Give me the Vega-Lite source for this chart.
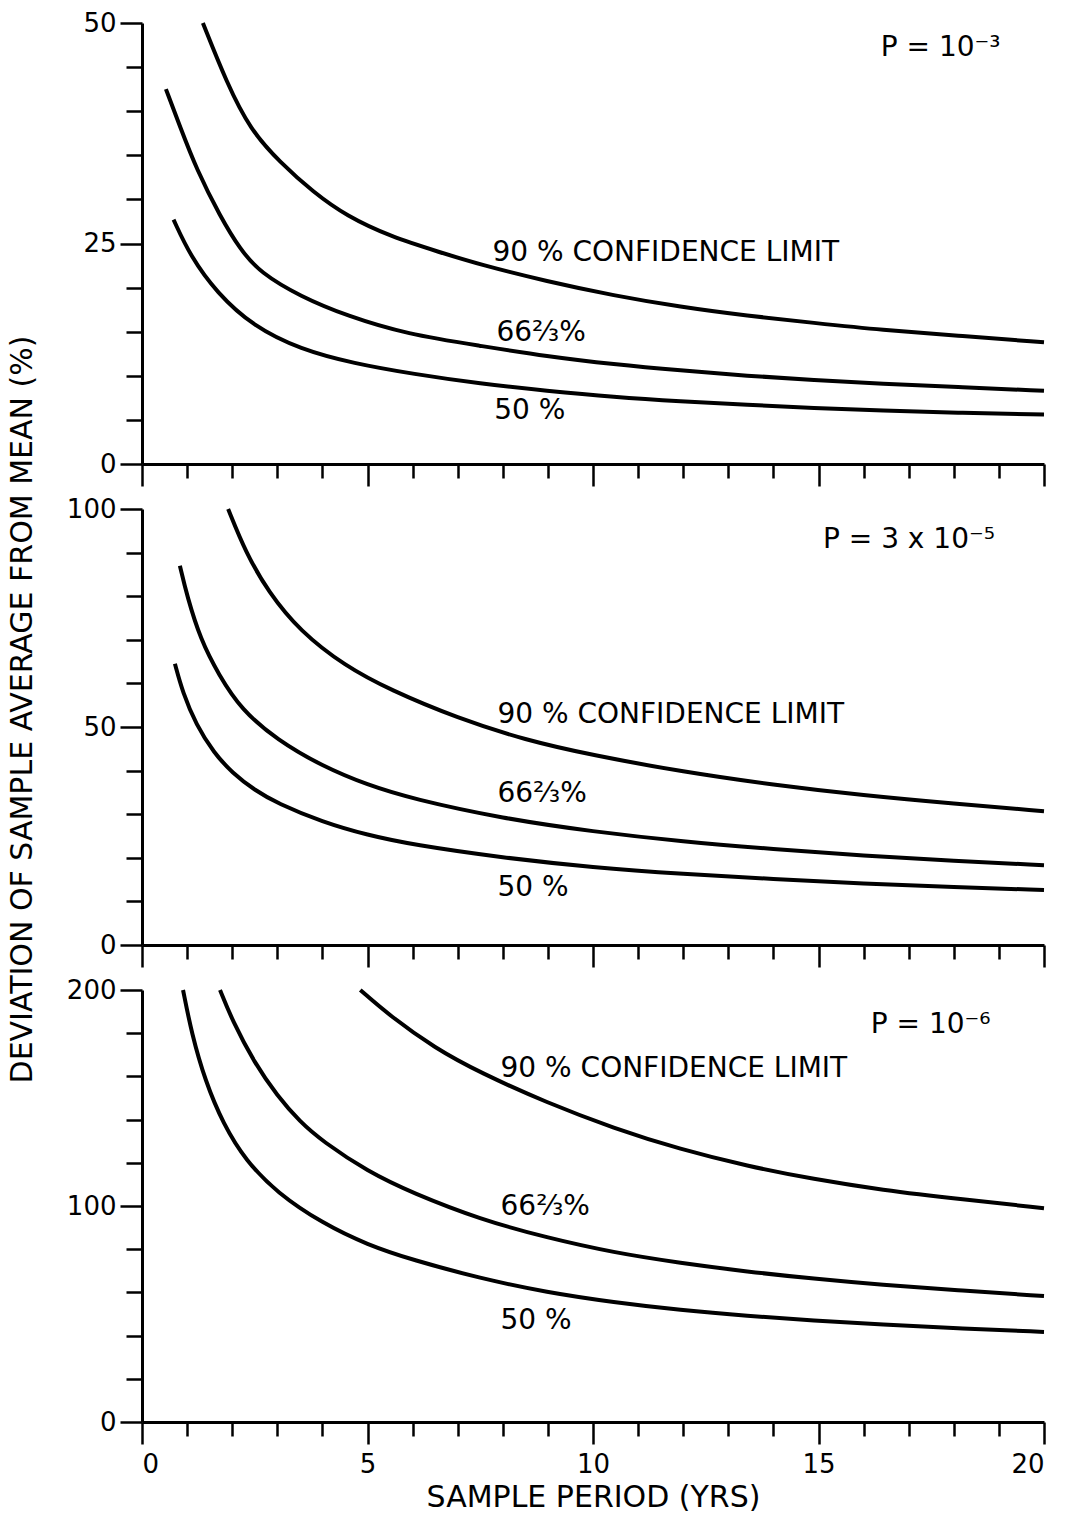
{
  "$schema": "https://vega.github.io/schema/vega-lite/v6.json",
  "background": "white",
  "padding": {"left": 6, "top": 10, "right": 5, "bottom": 0},
  "config": {
    "font": "DejaVu Sans",
    "view": {"stroke": null},
    "axis": {
      "grid": false,
      "domainColor": "black",
      "domainWidth": 3,
      "tickColor": "black",
      "tickWidth": 2.5,
      "labelFont": "DejaVu Sans",
      "labelFontSize": 26,
      "labelColor": "black",
      "labelPadding": 4,
      "titleFont": "DejaVu Sans",
      "titleFontSize": 30,
      "titleFontWeight": "normal",
      "titleColor": "black"
    },
    "text": {"font": "DejaVu Sans", "color": "black"}
  },
  "datasets": {
    "curves": [
      {"panel": 1, "limit": "90%", "years": 1.35, "deviation": 50},
      {"panel": 1, "limit": "90%", "years": 1.88, "deviation": 43.2},
      {"panel": 1, "limit": "90%", "years": 2.4, "deviation": 37.9},
      {"panel": 1, "limit": "90%", "years": 3.06, "deviation": 34.2},
      {"panel": 1, "limit": "90%", "years": 3.8, "deviation": 30.8},
      {"panel": 1, "limit": "90%", "years": 4.54, "deviation": 28.1},
      {"panel": 1, "limit": "90%", "years": 5.5, "deviation": 25.8},
      {"panel": 1, "limit": "90%", "years": 6.61, "deviation": 24.0},
      {"panel": 1, "limit": "90%", "years": 7.5, "deviation": 22.6},
      {"panel": 1, "limit": "90%", "years": 8.98, "deviation": 20.7},
      {"panel": 1, "limit": "90%", "years": 10.46, "deviation": 19.1},
      {"panel": 1, "limit": "90%", "years": 11.94, "deviation": 17.8},
      {"panel": 1, "limit": "90%", "years": 13.42, "deviation": 16.8},
      {"panel": 1, "limit": "90%", "years": 14.9, "deviation": 16.0},
      {"panel": 1, "limit": "90%", "years": 16.38, "deviation": 15.2},
      {"panel": 1, "limit": "90%", "years": 18.2, "deviation": 14.5},
      {"panel": 1, "limit": "90%", "years": 20, "deviation": 13.8},

      {"panel": 1, "limit": "66⅔%", "years": 0.53, "deviation": 42.5},
      {"panel": 1, "limit": "66⅔%", "years": 0.84, "deviation": 38.3},
      {"panel": 1, "limit": "66⅔%", "years": 1.21, "deviation": 33.4},
      {"panel": 1, "limit": "66⅔%", "years": 1.73, "deviation": 28.1},
      {"panel": 1, "limit": "66⅔%", "years": 2.18, "deviation": 24.3},
      {"panel": 1, "limit": "66⅔%", "years": 2.62, "deviation": 21.7},
      {"panel": 1, "limit": "66⅔%", "years": 3.51, "deviation": 19.0},
      {"panel": 1, "limit": "66⅔%", "years": 4.54, "deviation": 16.8},
      {"panel": 1, "limit": "66⅔%", "years": 5.88, "deviation": 14.7},
      {"panel": 1, "limit": "66⅔%", "years": 7.5, "deviation": 13.4},
      {"panel": 1, "limit": "66⅔%", "years": 8.98, "deviation": 12.2},
      {"panel": 1, "limit": "66⅔%", "years": 10.46, "deviation": 11.3},
      {"panel": 1, "limit": "66⅔%", "years": 11.94, "deviation": 10.6},
      {"panel": 1, "limit": "66⅔%", "years": 13.42, "deviation": 10.0},
      {"panel": 1, "limit": "66⅔%", "years": 14.9, "deviation": 9.5},
      {"panel": 1, "limit": "66⅔%", "years": 16.38, "deviation": 9.1},
      {"panel": 1, "limit": "66⅔%", "years": 18.2, "deviation": 8.7},
      {"panel": 1, "limit": "66⅔%", "years": 20, "deviation": 8.3},

      {"panel": 1, "limit": "50%", "years": 0.7, "deviation": 27.7},
      {"panel": 1, "limit": "50%", "years": 1.07, "deviation": 23.6},
      {"panel": 1, "limit": "50%", "years": 1.66, "deviation": 19.4},
      {"panel": 1, "limit": "50%", "years": 2.47, "deviation": 15.6},
      {"panel": 1, "limit": "50%", "years": 3.51, "deviation": 13.0},
      {"panel": 1, "limit": "50%", "years": 4.69, "deviation": 11.4},
      {"panel": 1, "limit": "50%", "years": 6.02, "deviation": 10.2},
      {"panel": 1, "limit": "50%", "years": 7.5, "deviation": 9.1},
      {"panel": 1, "limit": "50%", "years": 8.98, "deviation": 8.3},
      {"panel": 1, "limit": "50%", "years": 10.46, "deviation": 7.6},
      {"panel": 1, "limit": "50%", "years": 11.94, "deviation": 7.1},
      {"panel": 1, "limit": "50%", "years": 13.42, "deviation": 6.7},
      {"panel": 1, "limit": "50%", "years": 14.9, "deviation": 6.35},
      {"panel": 1, "limit": "50%", "years": 16.38, "deviation": 6.05},
      {"panel": 1, "limit": "50%", "years": 18.2, "deviation": 5.8},
      {"panel": 1, "limit": "50%", "years": 20, "deviation": 5.6},

      {"panel": 2, "limit": "90%", "years": 1.91, "deviation": 100},
      {"panel": 2, "limit": "90%", "years": 2.3, "deviation": 90},
      {"panel": 2, "limit": "90%", "years": 2.8, "deviation": 81},
      {"panel": 2, "limit": "90%", "years": 3.5, "deviation": 72},
      {"panel": 2, "limit": "90%", "years": 4.5, "deviation": 64},
      {"panel": 2, "limit": "90%", "years": 5.5, "deviation": 58.5},
      {"panel": 2, "limit": "90%", "years": 7, "deviation": 52},
      {"panel": 2, "limit": "90%", "years": 8.5, "deviation": 47},
      {"panel": 2, "limit": "90%", "years": 10, "deviation": 43.5},
      {"panel": 2, "limit": "90%", "years": 12, "deviation": 39.7},
      {"panel": 2, "limit": "90%", "years": 14, "deviation": 36.7},
      {"panel": 2, "limit": "90%", "years": 16, "deviation": 34.3},
      {"panel": 2, "limit": "90%", "years": 18, "deviation": 32.4},
      {"panel": 2, "limit": "90%", "years": 20, "deviation": 30.7},

      {"panel": 2, "limit": "66⅔%", "years": 0.84, "deviation": 87},
      {"panel": 2, "limit": "66⅔%", "years": 1.0, "deviation": 80},
      {"panel": 2, "limit": "66⅔%", "years": 1.3, "deviation": 70},
      {"panel": 2, "limit": "66⅔%", "years": 1.7, "deviation": 62},
      {"panel": 2, "limit": "66⅔%", "years": 2.2, "deviation": 54},
      {"panel": 2, "limit": "66⅔%", "years": 3, "deviation": 47},
      {"panel": 2, "limit": "66⅔%", "years": 4, "deviation": 41},
      {"panel": 2, "limit": "66⅔%", "years": 5, "deviation": 36.7},
      {"panel": 2, "limit": "66⅔%", "years": 6, "deviation": 33.5},
      {"panel": 2, "limit": "66⅔%", "years": 8, "deviation": 29},
      {"panel": 2, "limit": "66⅔%", "years": 10, "deviation": 26},
      {"panel": 2, "limit": "66⅔%", "years": 12, "deviation": 23.7},
      {"panel": 2, "limit": "66⅔%", "years": 14, "deviation": 22},
      {"panel": 2, "limit": "66⅔%", "years": 16, "deviation": 20.5},
      {"panel": 2, "limit": "66⅔%", "years": 18, "deviation": 19.3},
      {"panel": 2, "limit": "66⅔%", "years": 20, "deviation": 18.3},

      {"panel": 2, "limit": "50%", "years": 0.73, "deviation": 64.5},
      {"panel": 2, "limit": "50%", "years": 0.9, "deviation": 58},
      {"panel": 2, "limit": "50%", "years": 1.2, "deviation": 50.5},
      {"panel": 2, "limit": "50%", "years": 1.6, "deviation": 44},
      {"panel": 2, "limit": "50%", "years": 2, "deviation": 39.5},
      {"panel": 2, "limit": "50%", "years": 2.5, "deviation": 35.5},
      {"panel": 2, "limit": "50%", "years": 3, "deviation": 32.5},
      {"panel": 2, "limit": "50%", "years": 4, "deviation": 28.2},
      {"panel": 2, "limit": "50%", "years": 5, "deviation": 25.2},
      {"panel": 2, "limit": "50%", "years": 6, "deviation": 23},
      {"panel": 2, "limit": "50%", "years": 8, "deviation": 20},
      {"panel": 2, "limit": "50%", "years": 10, "deviation": 17.8},
      {"panel": 2, "limit": "50%", "years": 12, "deviation": 16.3},
      {"panel": 2, "limit": "50%", "years": 14, "deviation": 15.1},
      {"panel": 2, "limit": "50%", "years": 16, "deviation": 14.1},
      {"panel": 2, "limit": "50%", "years": 18, "deviation": 13.3},
      {"panel": 2, "limit": "50%", "years": 20, "deviation": 12.6},

      {"panel": 3, "limit": "90%", "years": 4.84, "deviation": 200},
      {"panel": 3, "limit": "90%", "years": 5.5, "deviation": 188},
      {"panel": 3, "limit": "90%", "years": 6.5, "deviation": 173},
      {"panel": 3, "limit": "90%", "years": 7.5, "deviation": 161.7},
      {"panel": 3, "limit": "90%", "years": 8.98, "deviation": 147.8},
      {"panel": 3, "limit": "90%", "years": 10.46, "deviation": 136},
      {"panel": 3, "limit": "90%", "years": 11.94, "deviation": 126.2},
      {"panel": 3, "limit": "90%", "years": 13.42, "deviation": 118.5},
      {"panel": 3, "limit": "90%", "years": 14.9, "deviation": 112.4},
      {"panel": 3, "limit": "90%", "years": 16.38, "deviation": 107.5},
      {"panel": 3, "limit": "90%", "years": 18.2, "deviation": 103},
      {"panel": 3, "limit": "90%", "years": 20, "deviation": 99},

      {"panel": 3, "limit": "66⅔%", "years": 1.73, "deviation": 200},
      {"panel": 3, "limit": "66⅔%", "years": 2, "deviation": 186},
      {"panel": 3, "limit": "66⅔%", "years": 2.5, "deviation": 166},
      {"panel": 3, "limit": "66⅔%", "years": 3, "deviation": 151},
      {"panel": 3, "limit": "66⅔%", "years": 3.5, "deviation": 139},
      {"panel": 3, "limit": "66⅔%", "years": 4, "deviation": 130},
      {"panel": 3, "limit": "66⅔%", "years": 5, "deviation": 116},
      {"panel": 3, "limit": "66⅔%", "years": 6, "deviation": 106},
      {"panel": 3, "limit": "66⅔%", "years": 7.5, "deviation": 93.8},
      {"panel": 3, "limit": "66⅔%", "years": 8.98, "deviation": 85.3},
      {"panel": 3, "limit": "66⅔%", "years": 10.46, "deviation": 78.4},
      {"panel": 3, "limit": "66⅔%", "years": 11.94, "deviation": 73.6},
      {"panel": 3, "limit": "66⅔%", "years": 13.42, "deviation": 69.6},
      {"panel": 3, "limit": "66⅔%", "years": 14.9, "deviation": 66.3},
      {"panel": 3, "limit": "66⅔%", "years": 16.38, "deviation": 63.5},
      {"panel": 3, "limit": "66⅔%", "years": 18.2, "deviation": 60.8},
      {"panel": 3, "limit": "66⅔%", "years": 20, "deviation": 58.3},

      {"panel": 3, "limit": "50%", "years": 0.91, "deviation": 200},
      {"panel": 3, "limit": "50%", "years": 1.1, "deviation": 180},
      {"panel": 3, "limit": "50%", "years": 1.4, "deviation": 158},
      {"panel": 3, "limit": "50%", "years": 1.8, "deviation": 138},
      {"panel": 3, "limit": "50%", "years": 2.3, "deviation": 121},
      {"panel": 3, "limit": "50%", "years": 3, "deviation": 106},
      {"panel": 3, "limit": "50%", "years": 4, "deviation": 92},
      {"panel": 3, "limit": "50%", "years": 5, "deviation": 82},
      {"panel": 3, "limit": "50%", "years": 6, "deviation": 75},
      {"panel": 3, "limit": "50%", "years": 7.5, "deviation": 66.5},
      {"panel": 3, "limit": "50%", "years": 8.98, "deviation": 60},
      {"panel": 3, "limit": "50%", "years": 10.46, "deviation": 55.4},
      {"panel": 3, "limit": "50%", "years": 11.94, "deviation": 51.8},
      {"panel": 3, "limit": "50%", "years": 13.42, "deviation": 49.1},
      {"panel": 3, "limit": "50%", "years": 14.9, "deviation": 47.0},
      {"panel": 3, "limit": "50%", "years": 16.38, "deviation": 45.1},
      {"panel": 3, "limit": "50%", "years": 18.2, "deviation": 43.3},
      {"panel": 3, "limit": "50%", "years": 20, "deviation": 41.7}
    ],
    "notes": [
      {"panel": 1, "years": 16.38, "deviation": 47.2, "label": "P = 10⁻³"},
      {"panel": 1, "years": 7.77, "deviation": 23.9, "label": "90 % CONFIDENCE LIMIT"},
      {"panel": 1, "years": 7.86, "deviation": 14.9, "label": "66⅔%"},
      {"panel": 1, "years": 7.81, "deviation": 6.0, "label": "50 %"},
      {"panel": 2, "years": 15.1, "deviation": 92.9, "label": "P = 3 x 10⁻⁵"},
      {"panel": 2, "years": 7.88, "deviation": 52.8, "label": "90 % CONFIDENCE LIMIT"},
      {"panel": 2, "years": 7.88, "deviation": 34.6, "label": "66⅔%"},
      {"panel": 2, "years": 7.88, "deviation": 13.1, "label": "50 %"},
      {"panel": 3, "years": 16.16, "deviation": 183.6, "label": "P = 10⁻⁶"},
      {"panel": 3, "years": 7.95, "deviation": 163.3, "label": "90 % CONFIDENCE LIMIT"},
      {"panel": 3, "years": 7.95, "deviation": 99.6, "label": "66⅔%"},
      {"panel": 3, "years": 7.95, "deviation": 46.6, "label": "50 %"}
    ]
  },
  "bounds": "flush",
  "spacing": 45,
  "vconcat": [
    {
      "width": 902,
      "height": 441,
      "encoding": {
        "x": {
          "field": "years", "type": "quantitative",
          "scale": {"domain": [0, 20], "nice": false},
          "axis": {
            "values": [0,1,2,3,4,5,6,7,8,9,10,11,12,13,14,15,16,17,18,19,20],
            "labels": false, "title": null,
            "tickSize": {"condition": {"test": "datum.value % 5 === 0", "value": 22}, "value": 14}
          }
        },
        "y": {
          "field": "deviation", "type": "quantitative",
          "scale": {"domain": [0, 50], "nice": false},
          "axis": {
            "values": [0,5,10,15,20,25,30,35,40,45,50],
            "labelExpr": "datum.value % 25 === 0 ? datum.label : ''",
            "title": null,
            "tickSize": {"condition": {"test": "datum.value % 25 === 0", "value": 22}, "value": 16}
          }
        }
      },
      "layer": [
        {
          "data": {"name": "curves"},
          "transform": [{"filter": "datum.panel === 1"}],
          "mark": {"type": "line", "interpolate": "basis", "stroke": "black", "strokeWidth": 4},
          "encoding": {"detail": {"field": "limit"}}
        },
        {
          "data": {"name": "notes"},
          "transform": [{"filter": "datum.panel === 1"}],
          "mark": {"type": "text", "align": "left", "baseline": "middle", "fontSize": 28},
          "encoding": {"text": {"field": "label"}}
        }
      ]
    },
    {
      "width": 902,
      "height": 436,
      "encoding": {
        "x": {
          "field": "years", "type": "quantitative",
          "scale": {"domain": [0, 20], "nice": false},
          "axis": {
            "values": [0,1,2,3,4,5,6,7,8,9,10,11,12,13,14,15,16,17,18,19,20],
            "labels": false, "title": null,
            "tickSize": {"condition": {"test": "datum.value % 5 === 0", "value": 22}, "value": 14}
          }
        },
        "y": {
          "field": "deviation", "type": "quantitative",
          "scale": {"domain": [0, 100], "nice": false},
          "axis": {
            "values": [0,10,20,30,40,50,60,70,80,90,100],
            "labelExpr": "datum.value % 50 === 0 ? datum.label : ''",
            "title": "DEVIATION OF SAMPLE AVERAGE FROM MEAN (%)",
            "titleX": -120,
            "titleY": 200,
            "titleAngle": -90,
            "titleAlign": "center",
            "titleBaseline": "middle",
            "tickSize": {"condition": {"test": "datum.value % 50 === 0", "value": 22}, "value": 16}
          }
        }
      },
      "layer": [
        {
          "data": {"name": "curves"},
          "transform": [{"filter": "datum.panel === 2"}],
          "mark": {"type": "line", "interpolate": "basis", "stroke": "black", "strokeWidth": 4},
          "encoding": {"detail": {"field": "limit"}}
        },
        {
          "data": {"name": "notes"},
          "transform": [{"filter": "datum.panel === 2"}],
          "mark": {"type": "text", "align": "left", "baseline": "middle", "fontSize": 28},
          "encoding": {"text": {"field": "label"}}
        }
      ]
    },
    {
      "width": 902,
      "height": 432,
      "encoding": {
        "x": {
          "field": "years", "type": "quantitative",
          "scale": {"domain": [0, 20], "nice": false},
          "axis": {
            "values": [0,1,2,3,4,5,6,7,8,9,10,11,12,13,14,15,16,17,18,19,20],
            "labelExpr": "datum.value % 5 === 0 ? datum.label : ''",
            "labelPadding": 7,
            "title": "SAMPLE PERIOD (YRS)",
            "titlePadding": 5,
            "tickSize": {"condition": {"test": "datum.value % 5 === 0", "value": 22}, "value": 14}
          }
        },
        "y": {
          "field": "deviation", "type": "quantitative",
          "scale": {"domain": [0, 200], "nice": false},
          "axis": {
            "values": [0,20,40,60,80,100,120,140,160,180,200],
            "labelExpr": "datum.value % 100 === 0 ? datum.label : ''",
            "title": null,
            "tickSize": {"condition": {"test": "datum.value % 100 === 0", "value": 22}, "value": 16}
          }
        }
      },
      "layer": [
        {
          "data": {"name": "curves"},
          "transform": [{"filter": "datum.panel === 3"}],
          "mark": {"type": "line", "interpolate": "basis", "stroke": "black", "strokeWidth": 4},
          "encoding": {"detail": {"field": "limit"}}
        },
        {
          "data": {"name": "notes"},
          "transform": [{"filter": "datum.panel === 3"}],
          "mark": {"type": "text", "align": "left", "baseline": "middle", "fontSize": 28},
          "encoding": {"text": {"field": "label"}}
        }
      ]
    }
  ]
}
